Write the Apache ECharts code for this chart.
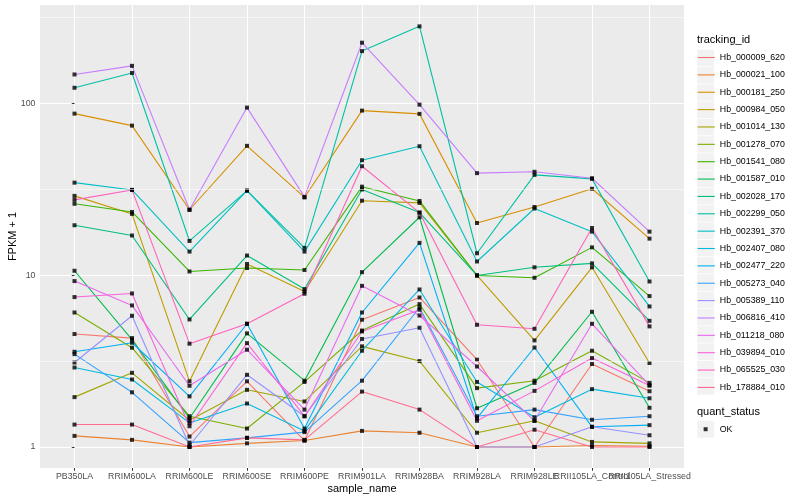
<!DOCTYPE html>
<html><head><meta charset="utf-8">
<script src="https://cdn.jsdelivr.net/npm/echarts@6/dist/echarts.min.js"></script>
<style>html,body{margin:0;padding:0;background:#fff}#c{width:800px;height:500px}</style>
</head><body><div id="c"></div>
<script>
const categories = ['PB350LA','RRIM600LA','RRIM600LE','RRIM600SE','RRIM600PE','RRIM901LA','RRIM928BA','RRIM928LA','RRIM928LE','RRII105LA_Control','RRII105LA_Stressed'];
const trackingIds = ['Hb_000009_620','Hb_000021_100','Hb_000181_250','Hb_000984_050','Hb_001014_130','Hb_001278_070','Hb_001541_080','Hb_001587_010','Hb_002028_170','Hb_002299_050','Hb_002391_370','Hb_002407_080','Hb_002477_220','Hb_005273_040','Hb_005389_110','Hb_006816_410','Hb_011218_080','Hb_039894_010','Hb_065525_030','Hb_178884_010'];
const colors = ['#F8766D','#EA8331','#D89000','#C09B00','#A3A500','#7CAE00','#39B600','#00BB4E','#00BF7D','#00C1A3','#00BFC4','#00BAE0','#00B0F6','#35A2FF','#9590FF','#C77CFF','#E76BF3','#FA62DB','#FF62BC','#FF6C91'];

// FPKM + 1 per sample (same order as categories)
const Hb_000009_620 = [4.54, 4.30, 1.15, 2.41, 1.09, 5.50, 7.41, 3.22, 1.00, 3.04, 2.11];
const Hb_000021_100 = [1.16, 1.10, 1.00, 1.05, 1.09, 1.24, 1.21, 1.00, 1.00, 1.02, 1.01];
const Hb_000181_250 = [87.0, 74.1, 24.0, 56.5, 28.3, 90.6, 86.7, 20.1, 24.9, 31.8, 16.3];
const Hb_000984_050 = [28.9, 22.7, 2.41, 11.6, 8.03, 27.1, 26.3, 9.95, 4.17, 11.1, 3.08];
const Hb_001014_130 = [1.95, 2.70, 1.43, 2.15, 1.84, 3.85, 3.16, 1.21, 1.42, 1.07, 1.05];
const Hb_001278_070 = [6.06, 3.78, 1.51, 1.28, 2.39, 4.76, 6.78, 2.20, 2.43, 3.63, 2.36];
const Hb_001541_080 = [26.0, 23.3, 10.5, 11.0, 10.7, 32.7, 27.0, 9.95, 9.65, 14.5, 7.55];
const Hb_001587_010 = [10.6, 4.21, 1.47, 4.58, 2.43, 10.4, 21.7, 1.68, 2.36, 6.12, 1.69];
const Hb_002028_170 = [19.5, 17.0, 5.52, 13.0, 8.29, 31.5, 23.1, 9.95, 11.1, 11.7, 5.42];
const Hb_002299_050 = [123, 150, 15.8, 31.0, 14.4, 201, 280, 13.4, 38.3, 36.3, 9.18];
const Hb_002391_370 = [34.5, 31.3, 13.7, 31.0, 13.7, 46.6, 56.2, 12.0, 24.4, 17.9, 6.57];
const Hb_002407_080 = [2.90, 2.47, 1.38, 1.79, 1.24, 3.63, 8.25, 2.39, 1.49, 2.17, 1.92];
const Hb_002477_220 = [3.58, 4.04, 1.97, 5.21, 1.28, 6.06, 15.4, 1.47, 3.79, 1.31, 1.34];
const Hb_005273_040 = [3.47, 2.08, 1.06, 1.13, 1.22, 2.43, 6.48, 1.51, 1.65, 1.44, 1.51];
const Hb_005389_110 = [3.10, 5.80, 1.02, 2.63, 1.51, 4.25, 4.94, 1.00, 1.00, 1.31, 1.17];
const Hb_006816_410 = [147, 165, 24.0, 94.3, 28.5, 225, 98.1, 39.2, 39.9, 36.6, 17.9];
const Hb_011218_080 = [9.23, 6.66, 2.27, 3.68, 1.65, 8.66, 5.82, 2.94, 1.42, 5.21, 2.28];
const Hb_039894_010 = [7.45, 7.82, 1.32, 4.02, 1.51, 4.70, 6.29, 1.42, 2.12, 3.29, 2.28];
const Hb_065525_030 = [27.4, 31.3, 3.99, 5.21, 7.79, 43.0, 23.1, 5.14, 4.87, 18.8, 5.03];
const Hb_178884_010 = [1.35, 1.35, 1.00, 1.13, 1.10, 2.10, 1.65, 1.00, 1.26, 1.00, 1.00];

const seriesValues = [Hb_000009_620,Hb_000021_100,Hb_000181_250,Hb_000984_050,Hb_001014_130,Hb_001278_070,Hb_001541_080,Hb_001587_010,Hb_002028_170,Hb_002299_050,Hb_002391_370,Hb_002407_080,Hb_002477_220,Hb_005273_040,Hb_005389_110,Hb_006816_410,Hb_011218_080,Hb_039894_010,Hb_065525_030,Hb_178884_010];

const yTickValues = [1, 10, 100];
const yMinorGrid = [3.1623, 31.623, 316.23];
const quantStatus = ['OK'];

const FONT = '"Liberation Sans", Arial, Helvetica, sans-serif';
const catIdx = categories.map((c, i) => i);
const evenIdx = catIdx.filter(i => i % 2 === 0);
const oddIdx = catIdx.filter(i => i % 2 === 1);

const series = [];
series.push({
  type: 'line', data: [[0, 1]], symbol: 'none', lineStyle: {opacity: 0}, silent: true, z: 1,
  markLine: {silent: true, symbol: 'none', animation: false, label: {show: false},
    lineStyle: {color: '#ffffff', width: 0.55, type: 'solid'},
    emphasis: {disabled: true},
    data: yMinorGrid.map(v => ({yAxis: v}))}
});
seriesValues.forEach((vals, k) => {
  series.push({
    name: trackingIds[k], type: 'line', data: vals.map((v, i) => [i, v]),
    symbol: 'none', showSymbol: false, silent: true, z: 2,
    lineStyle: {width: 1.1, color: colors[k]}, itemStyle: {color: colors[k]},
    emphasis: {disabled: true}
  });
});
const pts = [];
seriesValues.forEach(vals => vals.forEach((v, i) => pts.push([i, v])));
series.push({name: quantStatus[0], type: 'scatter', data: pts, symbol: 'rect', symbolSize: 4,
  itemStyle: {color: '#000000'}, z: 3, silent: true, emphasis: {disabled: true}});

const KEY = 17.28, KEY_TOP = 49.4, KEY_LEFT = 697;
const graphic = [];
trackingIds.forEach((t, i) => graphic.push({type: 'rect', silent: true, z: -1,
  shape: {x: KEY_LEFT, y: KEY_TOP + i * KEY, width: KEY, height: KEY},
  style: {fill: '#F2F2F2', stroke: '#ffffff', lineWidth: 0.6}}));
graphic.push({type: 'rect', silent: true, z: -1, shape: {x: KEY_LEFT, y: 420.6, width: KEY, height: KEY},
  style: {fill: '#F2F2F2', stroke: '#ffffff', lineWidth: 0.6}});
graphic.push({type: 'text', silent: true, x: KEY_LEFT, y: 39.5,
  style: {text: 'tracking_id', fontSize: 11, fontFamily: FONT, fill: '#000', verticalAlign: 'middle', align: 'left'}});
graphic.push({type: 'text', silent: true, x: KEY_LEFT, y: 412,
  style: {text: 'quant_status', fontSize: 11, fontFamily: FONT, fill: '#000', verticalAlign: 'middle', align: 'left'}});

const labelStyle = {formatter: v => categories[Math.round(v)], color: '#4D4D4D', fontSize: 8.8, fontFamily: FONT, margin: 4.5, align: 'center', hideOverlap: false, showMinLabel: true, showMaxLabel: true};

const option = {
  animation: false,
  backgroundColor: '#ffffff',
  grid: {left: 40, right: 116, top: 5, bottom: 32, show: true, backgroundColor: '#EBEBEB', borderWidth: 0, containLabel: false, outerBoundsMode: 'none'},
  xAxis: [{
    type: 'value', min: -0.6, max: 10.6, position: 'bottom',
    axisLine: {show: false, onZero: false},
    axisTick: {show: true, length: 2.75, lineStyle: {color: '#333333', width: 1}, customValues: catIdx},
    axisLabel: Object.assign({customValues: evenIdx}, labelStyle),
    splitLine: {show: true, lineStyle: {color: '#ffffff', width: 1.07}},
    name: 'sample_name', nameLocation: 'middle', nameGap: 15.5, nameMoveOverlap: false,
    nameTextStyle: {fontSize: 11, color: '#000', fontFamily: FONT}
  }, {
    type: 'value', min: -0.6, max: 10.6, position: 'bottom', offset: 0,
    axisLine: {show: false, onZero: false},
    axisTick: {show: false},
    axisLabel: Object.assign({customValues: oddIdx}, labelStyle),
    splitLine: {show: false}
  }],
  yAxis: {
    type: 'log', logBase: 10, min: 0.7545, max: 372.8,
    axisLine: {show: false},
    axisTick: {show: true, length: 2.75, lineStyle: {color: '#333333', width: 1}, customValues: yTickValues},
    axisLabel: {customValues: yTickValues, formatter: v => String(Math.round(v)), color: '#4D4D4D', fontSize: 8.8, fontFamily: FONT, margin: 4.5, showMinLabel: true, showMaxLabel: true},
    splitLine: {show: true, lineStyle: {color: '#ffffff', width: 1.07}},
    minorSplitLine: {show: false},
    name: 'FPKM + 1', nameLocation: 'middle', nameGap: 22, nameRotate: 90, nameMoveOverlap: false,
    nameTextStyle: {fontSize: 11, color: '#000', fontFamily: FONT}
  },
  legend: [{
    data: trackingIds, orient: 'vertical', left: KEY_LEFT, top: KEY_TOP + 1.2,
    itemWidth: KEY, itemHeight: KEY, itemGap: 3.54, padding: 0, selectedMode: false,
    itemStyle: {color: 'rgba(0,0,0,0)', borderColor: 'rgba(0,0,0,0)', borderWidth: 0},
    lineStyle: {width: 1.1},
    textStyle: {fontSize: 8.8, color: '#000', fontFamily: FONT}
  }, {
    data: quantStatus, orient: 'vertical', left: KEY_LEFT + KEY / 2 - 2, top: 423.2,
    itemWidth: 4, itemHeight: 4, padding: 0, selectedMode: false, icon: 'rect',
    itemStyle: {color: '#000'},
    textStyle: {fontSize: 8.8, color: '#000', fontFamily: FONT, lineHeight: 12, padding: [0, 0, 0, 7]}
  }],
  graphic: graphic,
  series: series
};
const chart = echarts.init(document.getElementById('c'));
chart.setOption(option);
</script>
</body></html>
